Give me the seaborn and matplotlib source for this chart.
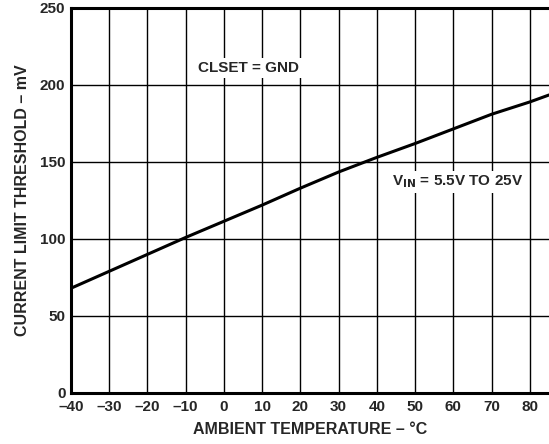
import matplotlib
matplotlib.use("Agg")
import matplotlib.pyplot as plt
import seaborn as sns
import pandas as pd

# Datos
temperatura = [-40, -30, -20, -10, 0, 10, 20, 30, 40, 50, 60, 70, 80, 85]
umbral_mv = [68, 79, 90, 101, 111.5, 122, 133, 143.5, 153, 162, 171.5, 181, 189, 193.5]

x_ticks = [-40, -30, -20, -10, 0, 10, 20, 30, 40, 50, 60, 70, 80]
y_ticks = [0, 50, 100, 150, 200, 250]

sns.set_style("white")
plt.rcParams['font.family'] = ['Liberation Sans', 'DejaVu Sans']
plt.rcParams['font.weight'] = 'bold'

df = pd.DataFrame({"temp": temperatura, "mv": umbral_mv})

fig = plt.figure(figsize=(5.49, 4.44), dpi=100)
ax = fig.add_axes([0.1293, 0.115, 0.8707, 0.867])

# Cuadrícula
for xt in x_ticks:
    ax.axvline(xt, color="black", lw=1.0, zorder=1)
for yt in y_ticks:
    ax.axhline(yt, color="black", lw=1.0, zorder=1)

sns.lineplot(data=df, x="temp", y="mv", color="black", lw=2.2, ax=ax, zorder=3)

ax.set_xlim(-40, 85)
ax.set_ylim(0, 250)
ax.set_xticks(x_ticks)
ax.set_yticks(y_ticks)
ax.set_xticklabels(["\u2013" + str(-t) if t < 0 else str(t) for t in x_ticks])
ax.tick_params(axis="x", length=0, labelsize=11, pad=5)
ax.tick_params(axis="y", length=0, labelsize=11, pad=4)
for lab in ax.get_xticklabels() + ax.get_yticklabels():
    lab.set_fontweight("bold")

for s in ["left", "bottom", "top"]:
    ax.spines[s].set_linewidth(2.2)
    ax.spines[s].set_color("black")
ax.spines["right"].set_visible(False)

ax.set_xlabel("AMBIENT TEMPERATURE \u2013 \u00b0C", fontsize=11.5, fontweight="bold", labelpad=6)
ax.set_ylabel("CURRENT LIMIT THRESHOLD \u2013 mV", fontsize=11.5, fontweight="bold", labelpad=7)

# Anotaciones
ax.text(6.5, 211, "CLSET = GND", ha="center", va="center", fontsize=11, fontweight="bold",
        bbox=dict(facecolor="white", edgecolor="none", pad=2), zorder=4)
ax.text(61, 137, r"V$_{\mathbf{IN}}$ = 5.5V TO 25V", ha="center", va="center", fontsize=11,
        fontweight="bold", bbox=dict(facecolor="white", edgecolor="none", pad=2), zorder=4)

fig.savefig("out.png", dpi=100)
